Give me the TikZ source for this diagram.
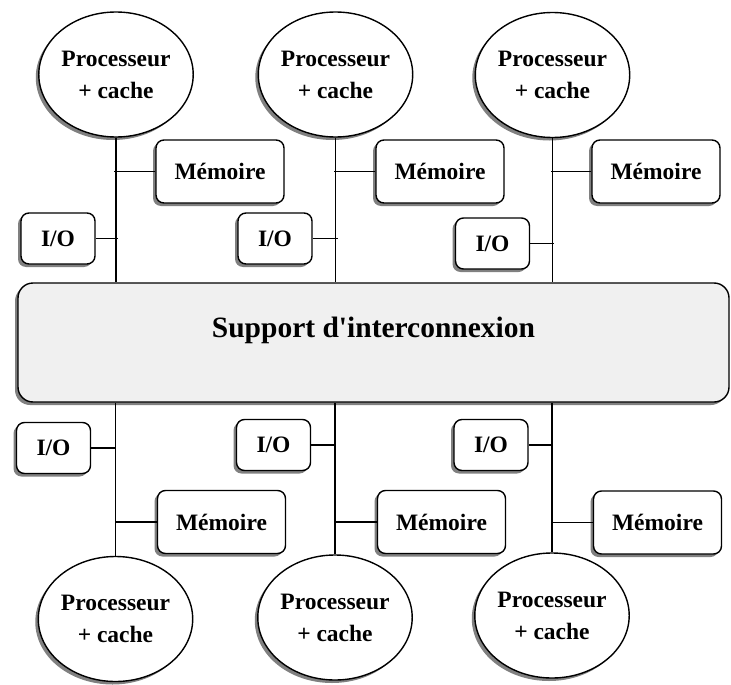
\documentclass[tikz,border=0pt]{standalone}
\usepackage{fontspec}
\setmainfont{Liberation Serif}
\usetikzlibrary{shapes.geometric,shadows}

\tikzset{
  shade3/.style={general shadow={fill=black!50, shadow xshift=-3pt, shadow yshift=-3pt}},
  cpu/.style={ellipse, draw, line width=1.4pt, fill=white, shade3,
    minimum width=139pt, minimum height=125pt, inner sep=0pt, align=center,
    font=\fontsize{23.5}{32}\selectfont\bfseries},
  membox/.style={rectangle, rounded corners=8pt, draw, line width=1.4pt, fill=white, shade3,
    minimum width=128pt, minimum height=63pt, inner sep=0pt,
    font=\fontsize{23.5}{28}\selectfont\bfseries},
  iobox/.style={membox, minimum width=74pt, minimum height=51pt},
  busbox/.style={rectangle, rounded corners=15pt, draw, line width=1.4pt, fill=black!6, shade3,
    minimum width=711pt, minimum height=119pt, inner sep=0pt},
  wire/.style={line width=1.4pt}
}

\begin{document}
\begin{tikzpicture}[x=1pt, y=-1pt]
\useasboundingbox (0,0) rectangle (731,685);

% interconnect
\node[busbox, label={[font=\fontsize{29.5}{34}\selectfont\bfseries, yshift=12pt]center:Support d\textquotesingle interconnexion}] (bus) at (373.5,342.5) {};

% upper row
\node[cpu] (pt1) at (116,74.5) {Processeur\\+ cache};
\node[cpu] (pt2) at (335.5,74.5) {Processeur\\+ cache};
\node[cpu] (pt3) at (552.5,75) {Processeur\\+ cache};
\node[membox] (mt1) at (220,171.5) {Mémoire};
\node[membox] (mt2) at (440,171.5) {Mémoire};
\node[membox] (mt3) at (656,171.5) {Mémoire};
\node[iobox] (it1) at (58,238.5) {I/O};
\node[iobox] (it2) at (275,238.5) {I/O};
\node[iobox] (it3) at (492.5,243.5) {I/O};

% lower row
\node[cpu] (pb1) at (115.5,619) {Processeur\\+ cache};
\node[cpu] (pb2) at (335,617.5) {Processeur\\+ cache};
\node[cpu] (pb3) at (552,615.5) {Processeur\\+ cache};
\node[membox] (mb1) at (221.5,522) {Mémoire};
\node[membox] (mb2) at (441.5,522) {Mémoire};
\node[membox] (mb3) at (657.5,522.5) {Mémoire};
\node[iobox] (ib1) at (53.5,448) {I/O};
\node[iobox] (ib2) at (273.5,445) {I/O};
\node[iobox] (ib3) at (491,445) {I/O};

% vertical links to the interconnect
\foreach \p in {pt1,pt2,pt3} \draw[wire] (\p.south) -- (\p.south |- bus.north);
\foreach \p in {pb1,pb2,pb3} \draw[wire] (\p.north) -- (\p.north |- bus.south);

% side branches
\draw[wire] (mt1.west) -- ([xshift=-2pt]mt1.west -| pt1.south);
\draw[wire] (mt2.west) -- ([xshift=-2pt]mt2.west -| pt2.south);
\draw[wire] (mt3.west) -- ([xshift=-2pt]mt3.west -| pt3.south);
\draw[wire] (it1.east) -- ([xshift=2pt]it1.east -| pt1.south);
\draw[wire] (it2.east) -- ([xshift=2pt]it2.east -| pt2.south);
\draw[wire] (it3.east) -- ([xshift=1pt]it3.east -| pt3.south);
\draw[wire] (mb1.west) -- (mb1.west -| pb1.north);
\draw[wire] (mb2.west) -- (mb2.west -| pb2.north);
\draw[wire] (mb3.west) -- (mb3.west -| pb3.north);
\draw[wire] (ib1.east) -- (ib1.east -| pb1.north);
\draw[wire] (ib2.east) -- (ib2.east -| pb2.north);
\draw[wire] (ib3.east) -- (ib3.east -| pb3.north);
\end{tikzpicture}
\end{document}
